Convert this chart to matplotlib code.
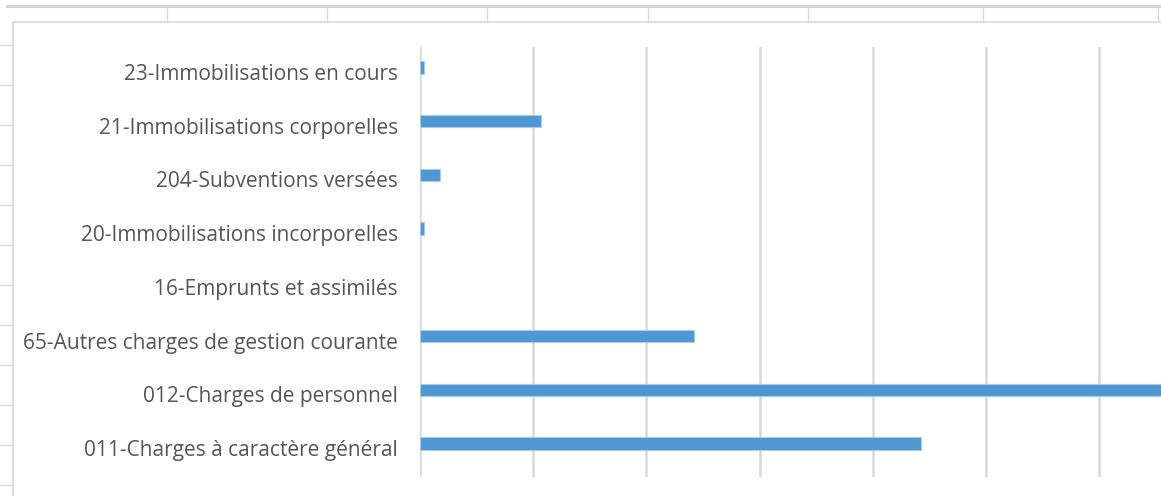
import matplotlib
matplotlib.use("Agg")
import matplotlib.pyplot as plt
import matplotlib.transforms as mtransforms
from matplotlib.lines import Line2D

categories = [
    "011-Charges à caractère général",
    "012-Charges de personnel",
    "65-Autres charges de gestion courante",
    "16-Emprunts et assimilés",
    "20-Immobilisations incorporelles",
    "204-Subventions versées",
    "21-Immobilisations corporelles",
    "23-Immobilisations en cours",
]
values = [4430000, 7000000, 2420000, 0, 35000, 180000, 1070000, 35000]
grid_ticks = [0, 1000000, 2000000, 3000000, 4000000, 5000000, 6000000]

W, H = 1161, 496
fig = plt.figure(figsize=(W / 100, H / 100), dpi=100)
fig.patch.set_facecolor("white")

# axes: from x=420px to right edge; y from 47px to 477px
ax = fig.add_axes([420 / W, 1 - 477 / H, 1 - 420 / W, 430 / H])
ypos = list(range(len(categories)))
bar_pos = [p + 0.12 for p in ypos]
ax.barh(bar_pos, values, height=0.235, color="#4F97D2", edgecolor="#A9CBEB",
        linewidth=[0.8 if v > 0 else 0 for v in values], zorder=3)
ax.set_ylim(-0.5, len(categories) - 0.5)
ax.set_xlim(0, 741 / 113.17 * 1000000)
ax.set_xticks(grid_ticks)
ax.xaxis.grid(True, color="#D9D9D9", linewidth=1.8, zorder=0)
ax.tick_params(axis="x", length=0, labelbottom=False)
ax.tick_params(axis="y", length=0, pad=16)
ax.set_yticks(ypos)
ax.set_yticklabels(categories, fontsize=15, color="#555555", family="Open Sans")
offset = mtransforms.ScaledTranslation(0, 2 / 100, fig.dpi_scale_trans)
for lab in ax.get_yticklabels():
    lab.set_transform(lab.get_transform() + offset)
for s in ax.spines.values():
    s.set_visible(False)

# spreadsheet / chart-area decorations (figure pixel coords)
def fline(x0, y0, x1, y1, lw=1.0, color="#D9D9D9"):
    fig.add_artist(Line2D([x0 / W, x1 / W], [1 - y0 / H, 1 - y1 / H],
                          transform=fig.transFigure, color=color, linewidth=lw))

fline(7, 6, W, 6, lw=2.2, color="#D4D4D4")
for x in [167, 327, 487, 648, 808, 983, 1158]:
    fline(x, 7, x, 21, lw=1.0, color="#D9D9D9")
fline(13, 22, W, 22, lw=1.2, color="#D9D9D9")
fline(13, 22, 13, H, lw=1.2, color="#D9D9D9")
for y in range(45, 496, 40):
    fline(0, y, 11, y, lw=1.0, color="#D9D9D9")

fig.savefig("out.png", dpi=100, facecolor="white")
